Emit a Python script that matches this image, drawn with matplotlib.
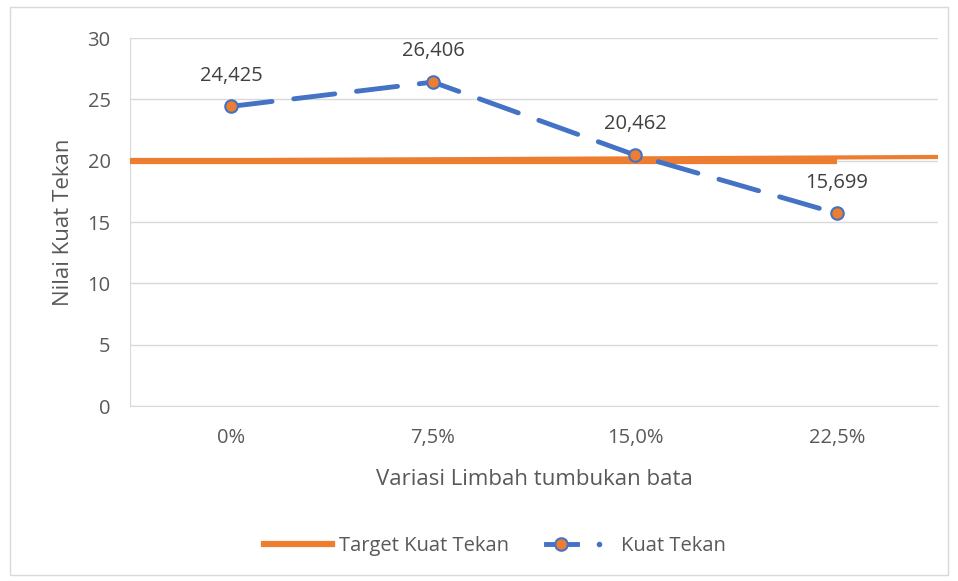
import matplotlib
matplotlib.use("Agg")
from matplotlib import pyplot as plt
from matplotlib.lines import Line2D
from matplotlib.legend_handler import HandlerTuple
from matplotlib.patches import Rectangle

categories = ["0%", "7,5%", "15,0%", "22,5%"]
kuat_tekan = [24.425, 26.406, 20.462, 15.699]
kuat_labels = ["24,425", "26,406", "20,462", "15,699"]
target = [20, 20, 20, 20, 20]
target_trend = [20.0, 20.3]

blue = "#4472C4"
orange = "#ED7D31"
grey_text = "#595959"

plt.rcParams["font.family"] = ["Open Sans", "DejaVu Sans"]

fig = plt.figure(figsize=[9.58, 5.81], dpi=100)
ax = fig.add_axes([130 / 958, 1 - 406 / 581, 808 / 958, 368 / 581])

xs = list(range(len(categories)))

# target line (from plot edge to last category) and the long one across
ax.plot([-0.5] + xs, target, color=orange, linewidth=4.5, solid_capstyle="butt", zorder=3)
ax.plot([-0.5, 3.5], target_trend, color=orange, linewidth=3, solid_capstyle="butt", zorder=3)

ax.plot(xs, kuat_tekan, color=blue, linewidth=3.5, dashes=(8.5, 4.5),
        dash_capstyle="round", marker="o", markersize=9,
        markerfacecolor=orange, markeredgecolor=blue, markeredgewidth=1.5, zorder=4)

for x, y, lab in zip(xs, kuat_tekan, kuat_labels):
    ax.annotate(lab, (x, y), xytext=(0, 15), textcoords="offset points",
                ha="center", va="bottom", fontsize=14.5, color="#404040")

ax.set_xlim(-0.5, 3.5)
ax.set_ylim(0, 30)
ax.set_yticks(range(0, 31, 5))
ax.set_xticks(xs)
ax.set_xticklabels(categories)
ax.tick_params(length=0, labelsize=14.5, labelcolor=grey_text)
ax.tick_params(axis="x", pad=16)
ax.tick_params(axis="y", pad=14)
ax.grid(axis="y", color="#D9D9D9", linewidth=1)
ax.set_axisbelow(True)
for s in ["top", "right"]:
    ax.spines[s].set_visible(False)
ax.spines["left"].set_color("#D9D9D9")
ax.spines["bottom"].set_color("#D9D9D9")

ax.set_ylabel("Nilai Kuat Tekan", fontsize=16, color=grey_text, labelpad=10)
ax.set_xlabel("Variasi Limbah tumbukan bata", fontsize=16, color=grey_text, labelpad=15)

h1 = Line2D([], [], color=orange, linewidth=4.5)
h2 = Line2D([], [], color=blue, linewidth=3.5, marker="o", markersize=9,
            markerfacecolor=orange, markeredgecolor=blue, markeredgewidth=1.5)
h3 = Line2D([], [], color=blue, linestyle="none", marker="o", markersize=3)
fig.legend([h1, (h2, h3)], ["Target Kuat Tekan", "Kuat Tekan"],
           handler_map={tuple: HandlerTuple(ndivide=None, pad=0.3)},
           loc="center", bbox_to_anchor=(495 / 958, 1 - 546 / 581), ncol=2,
           frameon=False, fontsize=14.5, labelcolor=grey_text,
           handlelength=3.4, handletextpad=0.35, columnspacing=1.8)

fig.patches.append(Rectangle((10 / 958, 6 / 581), 938 / 958, 568 / 581,
                             transform=fig.transFigure, fill=False,
                             edgecolor="#D9D9D9", linewidth=1))

fig.savefig("out.png", dpi=100)
